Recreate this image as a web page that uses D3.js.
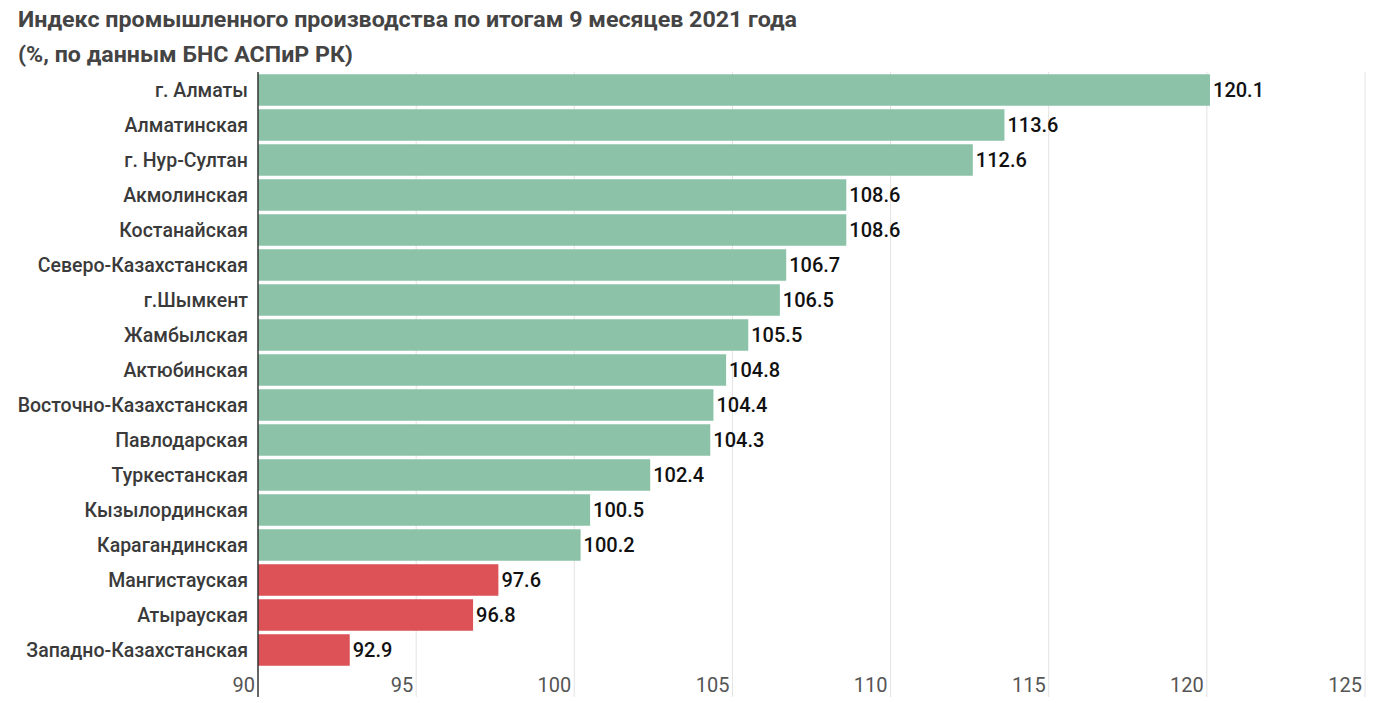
<!DOCTYPE html>
<html>
<head>
<meta charset="utf-8">
<script src="https://cdn.jsdelivr.net/npm/d3@7"></script>
<style>
  body { margin: 0; background: #fff; }
  svg { font-family: Roboto, "Noto Sans", sans-serif; }
</style>
</head>
<body>
<div id="chart"></div>
<script>
// Data
const regions = ["г. Алматы", "Алматинская", "г. Нур-Султан", "Акмолинская", "Костанайская",
  "Северо-Казахстанская", "г.Шымкент", "Жамбылская", "Актюбинская", "Восточно-Казахстанская",
  "Павлодарская", "Туркестанская", "Кызылординская", "Карагандинская", "Мангистауская",
  "Атырауская", "Западно-Казахстанская"];
const values = [120.1, 113.6, 112.6, 108.6, 108.6, 106.7, 106.5, 105.5, 104.8, 104.4,
  104.3, 102.4, 100.5, 100.2, 97.6, 96.8, 92.9];
const xTicks = [90, 95, 100, 105, 110, 115, 120, 125];
const titleLines = ["Индекс промышленного производства по итогам 9 месяцев 2021 года",
  "(%, по данным БНС АСПиР РК)"];

const data = regions.map((r, i) => ({ region: r, value: values[i] }));

const W = 1375, H = 703;
const svg = d3.select("#chart").append("svg")
  .attr("width", W)
  .attr("height", H);

// Scales
const x = d3.scaleLinear().domain([90, 125]).range([258, 1365]);
const y = d3.scaleBand()
  .domain(regions)
  .range([72.5, 667.5])
  .paddingInner(0.1)
  .paddingOuter(0.05);

// Title
svg.append("g").selectAll("text")
  .data(titleLines)
  .join("text")
  .attr("x", 18)
  .attr("y", (d, i) => 27 + i * 35)
  .attr("fill", "#444")
  .attr("font-size", 22)
  .attr("font-weight", 700)
  .attr("textLength", (d, i) => i === 0 ? 779 : 335)
  .attr("lengthAdjust", "spacingAndGlyphs")
  .text(d => d);

// Grid lines
svg.append("g").selectAll("line")
  .data(xTicks.slice(1))
  .join("line")
  .attr("x1", d => x(d)).attr("x2", d => x(d))
  .attr("y1", 72).attr("y2", 697)
  .attr("stroke", "#e3e3e3")
  .attr("stroke-width", 1);

// Bars
svg.append("g").selectAll("rect")
  .data(data)
  .join("rect")
  .attr("x", x(90))
  .attr("y", d => y(d.region))
  .attr("width", d => x(d.value) - x(90))
  .attr("height", y.bandwidth())
  .attr("fill", d => d.value >= 100 ? "#8cc3a8" : "#dc5256");

// Value labels
svg.append("g").selectAll("text")
  .data(data)
  .join("text")
  .attr("x", d => x(d.value) + 3)
  .attr("y", d => y(d.region) + y.bandwidth() / 2 + 7)
  .attr("font-size", 20)
  .attr("font-weight", 500)
  .attr("fill", "#111")
  .text(d => d.value.toFixed(1));

// Category labels
svg.append("g").selectAll("text")
  .data(data)
  .join("text")
  .attr("x", 248)
  .attr("y", d => y(d.region) + y.bandwidth() / 2 + 6.5)
  .attr("text-anchor", "end")
  .attr("font-size", 19.5)
  .attr("font-weight", 500)
  .attr("fill", "#3a3a3a")
  .text(d => d.region);

// X tick labels
svg.append("g").selectAll("text")
  .data(xTicks)
  .join("text")
  .attr("x", d => x(d) - 3)
  .attr("y", 692)
  .attr("text-anchor", "end")
  .attr("font-size", 20)
  .attr("fill", "#555")
  .text(d => d);

// Baseline axis
svg.append("line")
  .attr("x1", x(90)).attr("x2", x(90))
  .attr("y1", 72).attr("y2", 697)
  .attr("stroke", "#333")
  .attr("stroke-width", 1.5);
</script>
</body>
</html>
